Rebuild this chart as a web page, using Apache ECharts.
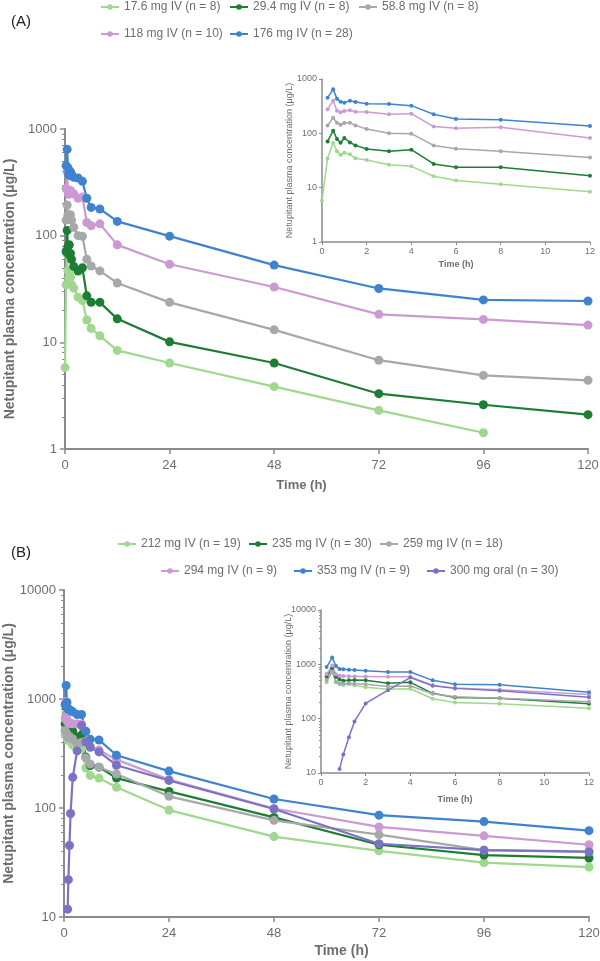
<!DOCTYPE html>
<html>
<head>
<meta charset="utf-8">
<script src="https://cdn.jsdelivr.net/npm/echarts@6/dist/echarts.min.js"></script>
<style>
html, body { margin: 0; padding: 0; background: #fff; }
#chartDiv { width: 600px; height: 961px; }
</style>
</head>
<body>
<div id="chartDiv"></div>
<script>
// ---- data ----
var hoursA = [0, 0.25, 0.5, 0.67, 0.83, 1, 1.25, 1.5, 2, 3, 4, 5, 6, 8, 12, 24, 48, 72, 96, 120];
var conc17 = [5.8, 34.7, 67, 47, 40, 44, 41, 34.7, 32.3, 26.5, 24.7, 16.2, 13.5, 11.5, 8.4, 6.4, 3.84, 2.3, 1.42, null];
var conc29 = [null, 71, 112, 79, 67, 82, 68, 60, 51.5, 46.6, 50, 27.3, 23.7, 23.7, 16.6, 10.1, 6.4, 3.3, 2.6, 2.1];
var conc58 = [null, 140, 194, 157, 144, 155, 157, 140, 120, 100, 98.6, 60, 52, 46.7, 36, 23.7, 13.1, 6.8, 4.9, 4.4];
var conc118 = [null, 277, 399, 261, 244, 258, 265, 250, 247, 224, 230, 133, 124, 129, 82, 54, 33, 18.3, 16.4, 14.5];
var conc176 = [null, 453, 645, 435, 383, 367, 399, 377, 352, 347, 323, 224, 184, 178, 136, 99, 53, 32, 25, 24.4];

var hoursB = [0.25, 0.5, 0.67, 0.83, 1, 1.25, 1.5, 2, 3, 4, 5, 6, 8, 12, 24, 48, 72, 96, 120];
var conc212 = [466, 731, 466, 428, 416, 428, 410, 377, 347, 356, 233, 199, 188, 155, 95.7, 54.7, 40.5, 31.5, 28.7];
var conc235 = [591, 843, 591, 530, 499, 507, 514, 507, 447, 466, 293, 245, 237, 188, 142, 82, 46, 37, 34.8];
var conc259 = [514, 740, 480, 450, 440, 450, 440, 430, 390, 400, 288, 253, 237, 205, 128, 77, 57, 41, 40];
var conc294 = [662, 950, 655, 617, 609, 601, 594, 594, 591, 591, 410, 365, 340, 278, 182, 99, 67, 55.5, 46];
var conc353 = [890, 1330, 930, 818, 809, 795, 785, 763, 721, 721, 507, 428, 421, 305, 218, 121, 86, 75, 62];
var hoursOral = [0.83, 1, 1.25, 1.5, 2, 3, 4, 5, 6, 8, 12, 24, 48, 72, 96, 120];
var concOral = [11.8, 22, 45.3, 89, 191, 334, 570, 403, 361, 327, 247, 179, 98, 47, 41, 39.5];

var namesA = ['17.6 mg IV (n = 8)', '29.4 mg IV (n = 8)', '58.8 mg IV (n = 8)', '118 mg IV (n = 10)', '176 mg IV (n = 28)'];
var namesB = ['212 mg IV (n = 19)', '235 mg IV (n = 30)', '259 mg IV (n = 18)', '294 mg IV (n = 9)', '353 mg IV (n = 9)', '300 mg oral (n = 30)'];

// ---- style ----
var colors = ['#9fd88e', '#1e7d34', '#a7a8aa', '#cc9ad2', '#3f83cf', '#7b72c4'];
var axisCol = '#8a8b8d';
var textCol = '#6d6e71';
var font = "'Liberation Sans', Arial, sans-serif";
var yName = 'Netupitant plasma concentration (\u03bcg/L)';

function pairs(xs, ys, maxX) {
    var out = [];
    for (var i = 0; i < xs.length; i++) {
        if (ys[i] == null) continue;
        if (maxX != null && xs[i] > maxX) continue;
        out.push([xs[i], ys[i]]);
    }
    return out;
}

// 2..9 of every decade, for the short ticks of the log axes
function minorTicks(lo, hi) {
    var v = [];
    for (var d = lo; d < hi; d *= 10) {
        for (var k = 2; k <= 9; k++) v.push(d * k);
    }
    return v;
}

function xAxisFor(grid, max, interval, inset, gap, nameSize, pad) {
    return {
        gridIndex: grid, type: 'value', min: 0, max: max, interval: interval,
        name: 'Time (h)', nameLocation: 'middle', nameGap: gap,
        nameTextStyle: { color: textCol, fontWeight: 'bold', fontFamily: font, fontSize: nameSize, padding: pad },
        axisLine: { lineStyle: { color: axisCol, width: inset ? 1.5 : 2 } },
        axisTick: { lineStyle: { color: axisCol, width: inset ? 1 : 1.5 }, length: inset ? 3 : 5 },
        axisLabel: { color: textCol, fontFamily: font, fontSize: inset ? 9 : 13, margin: inset ? 5 : 10 },
        splitLine: { show: false }
    };
}

function yAxisFor(grid, min, max, inset) {
    return {
        gridIndex: grid, type: 'log', logBase: 10, min: min, max: max,
        name: yName, nameLocation: 'middle', nameGap: inset ? 28 : 48, nameMoveOverlap: false,
        nameTextStyle: { color: textCol, fontWeight: inset ? 'normal' : 'bold', fontFamily: font, fontSize: inset ? 9 : 14 },
        axisLine: { show: true, lineStyle: { color: axisCol, width: inset ? 1.5 : 2 } },
        axisTick: { lineStyle: { color: axisCol, width: inset ? 1 : 1.5 }, length: inset ? 3 : 5 },
        axisLabel: {
            color: textCol, fontFamily: font, fontSize: inset ? 9 : 13, margin: inset ? 5 : 8,
            formatter: function (v) { return String(Math.round(v)); }
        },
        splitLine: { show: false }
    };
}

function minorAxis(grid, min, max, inset) {
    return {
        gridIndex: grid, type: 'log', logBase: 10, min: min, max: max, position: 'left',
        axisLine: { show: false },
        axisLabel: { show: false },
        axisTick: { show: true, customValues: minorTicks(min, max), length: inset ? 2 : 3,
            lineStyle: { color: axisCol, width: 1 } },
        splitLine: { show: false }
    };
}

function lineSeries(name, xi, yi, data, color, inset) {
    return {
        name: name, type: 'line', xAxisIndex: xi, yAxisIndex: yi, data: data,
        symbol: 'circle', symbolSize: inset ? 4 : 9, showSymbol: true,
        lineStyle: { color: color, width: inset ? 1.5 : 2.2 },
        itemStyle: { color: color },
        animation: false, clip: true
    };
}

function gridAt(left, top, width, height) {
    return { left: left, top: top, width: width, height: height, containLabel: false, outerBoundsMode: 'none' };
}

var seriesA = [conc17, conc29, conc58, conc118, conc176];
var seriesB = [conc212, conc235, conc259, conc294, conc353];

var series = [];
seriesA.forEach(function (ys, i) {
    series.push(lineSeries(namesA[i], 0, 0, pairs(hoursA, ys), colors[i], false));
});
seriesA.forEach(function (ys, i) {
    series.push(lineSeries(namesA[i], 1, 1, pairs(hoursA, ys, 12), colors[i], true));
});
seriesB.forEach(function (ys, i) {
    series.push(lineSeries(namesB[i], 2, 2, pairs(hoursB, ys), colors[i], false));
});
series.push(lineSeries(namesB[5], 2, 2, pairs(hoursOral, concOral), colors[5], false));
seriesB.forEach(function (ys, i) {
    series.push(lineSeries(namesB[i], 3, 3, pairs(hoursB, ys, 12), colors[i], true));
});
series.push(lineSeries(namesB[5], 3, 3, pairs(hoursOral, concOral, 12), colors[5], true));

// one legend per entry so that each sits where it does in the figure
var legendSpots = [
    [namesA[0], 100, 1], [namesA[1], 229, 1], [namesA[2], 358, 1],
    [namesA[3], 100, 28], [namesA[4], 229, 28],
    [namesB[0], 117, 538], [namesB[1], 248, 538], [namesB[2], 379, 538],
    [namesB[3], 160, 565], [namesB[4], 293, 565], [namesB[5], 426, 565]
];
var legends = legendSpots.map(function (s) {
    return {
        data: [s[0]], left: s[1], top: s[2], padding: 0,
        itemWidth: 18, itemHeight: 7, itemGap: 4,
        textStyle: { color: textCol, fontFamily: font, fontSize: 12 },
        selectedMode: false
    };
});

option = {
    backgroundColor: '#fff',
    animation: false,
    title: [
        { text: '(A)', left: 6, top: 9, textStyle: { fontSize: 15, fontWeight: 'normal', color: '#222', fontFamily: font } },
        { text: '(B)', left: 6, top: 540, textStyle: { fontSize: 15, fontWeight: 'normal', color: '#222', fontFamily: font } }
    ],
    legend: legends,
    grid: [
        gridAt(65, 129, 523, 320),
        gridAt(322, 79, 268, 163),
        gridAt(64, 590, 525, 327),
        gridAt(321, 610, 268, 163)
    ],
    xAxis: [
        xAxisFor(0, 120, 24, false, 30, 13, [0, 50, 0, 0]),
        xAxisFor(1, 12, 2, true, 18, 9, [0, 0, 0, 0]),
        xAxisFor(2, 120, 24, false, 27, 14, [0, 0, 0, 30]),
        xAxisFor(3, 12, 2, true, 22, 9, [0, 0, 0, 0])
    ],
    yAxis: [
        yAxisFor(0, 1, 1000, false),
        yAxisFor(1, 1, 1000, true),
        yAxisFor(2, 10, 10000, false),
        yAxisFor(3, 10, 10000, true),
        minorAxis(0, 1, 1000, false),
        minorAxis(2, 10, 10000, false),
        minorAxis(3, 10, 10000, true)
    ],
    series: series
};

var myChart = echarts.init(document.getElementById('chartDiv'));
myChart.setOption(option);
window.onresize = myChart.resize;
</script>
</body>
</html>
